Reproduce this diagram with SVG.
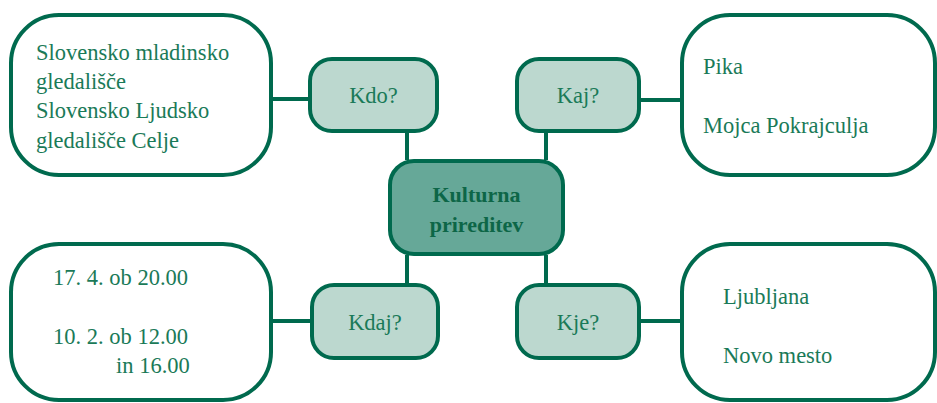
<svg xmlns="http://www.w3.org/2000/svg" width="937" height="403" viewBox="0 0 937 403">
<style>
.big{fill:#ffffff;stroke:#006a4e;stroke-width:4}
.q{fill:#bcd8cf;stroke:#006a4e;stroke-width:4}
.c{fill:#66a898;stroke:#006a4e;stroke-width:4}
.ln{stroke:#006a4e;stroke-width:4;fill:none}
text{font-family:"Liberation Serif","DejaVu Serif",serif;font-size:22.5px;fill:#1a7a58}
.mid{text-anchor:middle}
.b{font-weight:bold;fill:#0d6647;font-size:22px}
</style>
<rect width="937" height="403" fill="#ffffff"/>
<g id="connectors">
<line class="ln" x1="273" y1="99" x2="310" y2="99"/>
<line class="ln" x1="640" y1="100" x2="681" y2="100"/>
<line class="ln" x1="273" y1="321" x2="311" y2="321"/>
<line class="ln" x1="640" y1="321" x2="681" y2="321"/>
<line class="ln" x1="407" y1="133" x2="407" y2="160"/>
<line class="ln" x1="546" y1="133" x2="546" y2="160"/>
<line class="ln" x1="407" y1="255" x2="407" y2="284"/>
<line class="ln" x1="546" y1="255" x2="546" y2="284"/>
</g>
<g id="kdo-answer">
<rect class="big" x="11" y="15" width="260" height="160" rx="48" ry="48"/>
<text x="36" y="60">Slovensko mladinsko</text>
<text x="36" y="89">gledališče</text>
<text x="36" y="118">Slovensko Ljudsko</text>
<text x="36" y="148">gledališče Celje</text>
</g>
<g id="kaj-answer">
<rect class="big" x="682" y="15" width="253" height="160" rx="48" ry="48"/>
<text x="703" y="74">Pika</text>
<text x="703" y="133">Mojca Pokrajculja</text>
</g>
<g id="kdaj-answer">
<rect class="big" x="11" y="244" width="260" height="156" rx="48" ry="48"/>
<text x="53" y="285">17. 4. ob 20.00</text>
<text x="53" y="344">10. 2. ob 12.00</text>
<text x="116" y="373">in 16.00</text>
</g>
<g id="kje-answer">
<rect class="big" x="682" y="244" width="253" height="156" rx="48" ry="48"/>
<text x="723" y="304">Ljubljana</text>
<text x="723" y="363">Novo mesto</text>
</g>
<g id="kdo">
<rect class="q" x="310" y="59" width="127" height="72" rx="22" ry="22"/>
<text class="mid" x="373.5" y="103">Kdo?</text>
</g>
<g id="kaj">
<rect class="q" x="517" y="59" width="122" height="72" rx="22" ry="22"/>
<text class="mid" x="578" y="103">Kaj?</text>
</g>
<g id="kdaj">
<rect class="q" x="312" y="285" width="126" height="73" rx="22" ry="22"/>
<text class="mid" x="375" y="330">Kdaj?</text>
</g>
<g id="kje">
<rect class="q" x="517" y="285" width="122" height="73" rx="22" ry="22"/>
<text class="mid" x="578" y="330">Kje?</text>
</g>
<g id="center">
<rect class="c" x="390" y="161" width="173" height="93" rx="24" ry="24"/>
<text class="mid b" x="476.5" y="202">Kulturna</text>
<text class="mid b" x="476.5" y="232">prireditev</text>
</g>
</svg>
